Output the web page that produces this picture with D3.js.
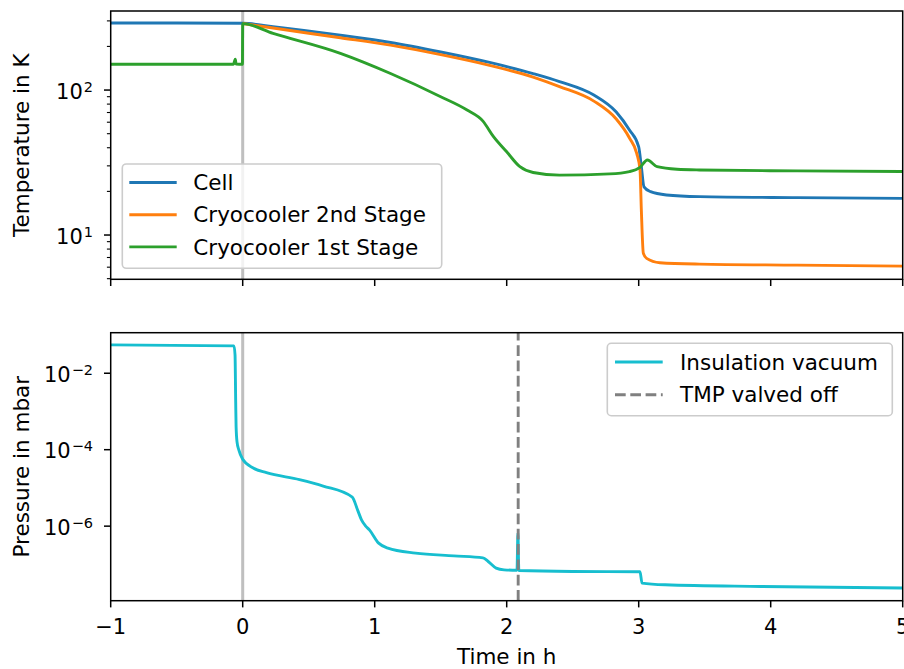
<!DOCTYPE html>
<html>
<head>
<meta charset="utf-8">
<script src="https://cdn.jsdelivr.net/npm/d3@7"></script>
<style>
html, body { margin: 0; padding: 0; background: #ffffff; }
svg { display: block; font-family: "DejaVu Sans", sans-serif; }
</style>
</head>
<body>
<svg id="chart" width="904" height="669"></svg>
<script>
// ---------------- data ----------------
const cellTime = [-1, -0.5, 0, 0.23, 0.74, 1.12, 1.5, 1.87, 2.2, 2.4, 2.66, 2.83, 2.93, 3.0, 3.02, 3.04, 3.09, 3.21, 3.46, 4.2, 5];
const cellTemp = [290, 290, 288.6, 274, 239, 213, 183, 155, 130, 114.5, 92.4, 70.5, 53, 40.6, 29.6, 21.5, 19.9, 18.9, 18.4, 18.1, 17.9];

const stage2Time = [0, 0.23, 0.74, 1.12, 1.5, 1.87, 2.2, 2.4, 2.66, 2.83, 2.93, 2.985, 3.01, 3.02, 3.035, 3.06, 3.16, 3.46, 4.2, 5];
const stage2Temp = [288, 267.7, 229.6, 204, 175.4, 148, 123, 105.7, 83.9, 63.1, 46.7, 36.6, 28.1, 14.9, 7.5, 6.9, 6.44, 6.3, 6.2, 6.1];

const stage1Time = [-1, -0.07, -0.062, -0.056, -0.05, -0.002, 0, 0.23, 0.74, 1.12, 1.5, 1.7, 1.82, 1.9, 2.0, 2.1, 2.2, 2.4, 2.78, 2.93, 3.01, 3.066, 3.14, 3.29, 3.46, 4.2, 5];
const stage1Temp = [150.5, 150.5, 158, 163, 151, 150.5, 287, 246, 179, 130, 90, 72.8, 61.1, 47.7, 37.5, 29.6, 27.0, 25.9, 26.4, 27.4, 29.3, 32.9, 29.6, 28.4, 28.1, 27.7, 27.4];

const vacTime = [-1, -0.066, -0.058, -0.053, -0.05, -0.043, -0.03, 0, 0.08, 0.18, 0.43, 0.61, 0.83, 0.87, 0.9, 0.93, 0.96, 1.03, 1.1, 1.31, 1.6, 1.82, 1.86, 1.92, 1.98, 2.078, 2.085, 2.092, 2.5, 3.01, 3.025, 3.2, 3.93, 5];
const vacPressure = [0.055, 0.052, 0.03, 1.7e-3, 4e-4, 1.6e-4, 1e-4, 5.6e-5, 3.3e-5, 2.5e-5, 1.65e-5, 1.12e-5, 5.75e-6, 2.67e-6, 1.46e-6, 1.02e-6, 8.0e-7, 3.6e-7, 2.66e-7, 1.97e-7, 1.67e-7, 1.48e-7, 1.19e-7, 8.0e-8, 7.2e-8, 7.0e-8, 6.6e-7, 6.9e-8, 6.5e-8, 6.4e-8, 3.24e-8, 2.92e-8, 2.64e-8, 2.4e-8];

const startTime = 0;
const tmpValvedOff = 2.087;

const xTicks = [-1, 0, 1, 2, 3, 4, 5];
const tempMajorTicks = [10, 100];
const tempMinorTicks = [5, 6, 7, 8, 9, 20, 30, 40, 50, 60, 70, 80, 90, 200, 300];
const presMajorTicks = [1e-2, 1e-4, 1e-6];
const presExponents = ["−2", "−4", "−6"];
const tempExponents = ["1", "2"];

const topSeries = [
  { name: "Cell", t: cellTime, v: cellTemp, color: "#1f77b4" },
  { name: "Cryocooler 2nd Stage", t: stage2Time, v: stage2Temp, color: "#ff7f0e" },
  { name: "Cryocooler 1st Stage", t: stage1Time, v: stage1Temp, color: "#2ca02c" }
];

// ---------------- layout ----------------
const svg = d3.select("#chart");
const L = 110.7, R = 902.7;
const top1 = 11, bot1 = 279.3;
const top2 = 332.7, bot2 = 600.7;
const LW = 2.9;
const tickFont = 21, labelFont = 21.5;

const x = d3.scaleLinear().domain([-1, 5]).range([L, R]);
const yT = d3.scaleLog().domain([4.95, 351]).range([bot1, top1]);
const yP = d3.scaleLog().domain([Math.pow(10, -7.95), Math.pow(10, -0.94)]).range([bot2, top2]);

const defs = svg.append("defs");
defs.append("clipPath").attr("id", "clip1").append("rect")
  .attr("x", L).attr("y", top1).attr("width", R - L).attr("height", bot1 - top1);
defs.append("clipPath").attr("id", "clip2").append("rect")
  .attr("x", L).attr("y", top2).attr("width", R - L).attr("height", bot2 - top2);

// ---------- top panel ----------
const g1 = svg.append("g").attr("clip-path", "url(#clip1)");
g1.append("line").attr("x1", x(startTime)).attr("x2", x(startTime))
  .attr("y1", top1).attr("y2", bot1).attr("stroke", "#bfbfbf").attr("stroke-width", 3);

topSeries.forEach(s => {
  const pts = s.t.map((t, i) => [t, s.v[i]]);
  g1.append("path").datum(pts)
    .attr("fill", "none").attr("stroke", s.color).attr("stroke-width", LW)
    .attr("stroke-linejoin", "round")
    .attr("d", d3.line().x(d => x(d[0])).y(d => yT(d[1])).curve(d3.curveMonotoneX));
});

// ---------- bottom panel ----------
const g2 = svg.append("g").attr("clip-path", "url(#clip2)");
g2.append("line").attr("x1", x(startTime)).attr("x2", x(startTime))
  .attr("y1", top2).attr("y2", bot2).attr("stroke", "#bfbfbf").attr("stroke-width", 3);
const vacPts = vacTime.map((t, i) => [t, vacPressure[i]]);
g2.append("path").datum(vacPts)
  .attr("fill", "none").attr("stroke", "#17becf").attr("stroke-width", LW)
  .attr("stroke-linejoin", "round")
  .attr("d", d3.line().x(d => x(d[0])).y(d => yP(d[1])).curve(d3.curveMonotoneX));
g2.append("line").attr("x1", x(tmpValvedOff)).attr("x2", x(tmpValvedOff))
  .attr("y1", bot2).attr("y2", top2).attr("stroke", "#808080").attr("stroke-width", LW)
  .attr("stroke-dasharray", "10.7,4.6");

// ---------- frames & ticks ----------
function frame(t, b) {
  svg.append("rect").attr("x", L).attr("y", t).attr("width", R - L).attr("height", b - t)
    .attr("fill", "none").attr("stroke", "#000").attr("stroke-width", 1.5);
}
frame(top1, bot1);
frame(top2, bot2);

function xTickMarks(b, labels) {
  xTicks.forEach(v => {
    svg.append("line").attr("x1", x(v)).attr("x2", x(v)).attr("y1", b).attr("y2", b + 6.7)
      .attr("stroke", "#000").attr("stroke-width", 1.5);
    if (labels) {
      svg.append("text").attr("x", x(v)).attr("y", 634).attr("text-anchor", "middle")
        .attr("font-size", tickFont).attr("fill", "#000")
        .text(v < 0 ? "−" + Math.abs(v) : String(v));
    }
  });
}
xTickMarks(bot1, false);
xTickMarks(bot2, true);

function yTick(yy, len, w) {
  svg.append("line").attr("x1", L).attr("x2", L - len).attr("y1", yy).attr("y2", yy)
    .attr("stroke", "#000").attr("stroke-width", w);
}
function yLabel(yy, exp) {
  const t = svg.append("text").attr("x", 93).attr("y", yy + 8.5)
    .attr("text-anchor", "end").attr("font-size", tickFont).attr("fill", "#000");
  t.append("tspan").text("10");
  t.append("tspan").attr("dy", -7).attr("dx", 1).attr("font-size", 14.5).text(exp);
}
tempMinorTicks.forEach(v => yTick(yT(v), 3.8, 1.1));
tempMajorTicks.forEach((v, i) => { yTick(yT(v), 6.7, 1.5); yLabel(yT(v), tempExponents[i]); });
presMajorTicks.forEach((v, i) => { yTick(yP(v), 6.7, 1.5); yLabel(yP(v), presExponents[i]); });

// axis labels
svg.append("text").attr("transform", `translate(28.7,${(top1 + bot1) / 2}) rotate(-90)`)
  .attr("text-anchor", "middle").attr("font-size", labelFont).attr("fill", "#000")
  .text("Temperature in K");
svg.append("text").attr("transform", `translate(28.7,${(top2 + bot2) / 2}) rotate(-90)`)
  .attr("text-anchor", "middle").attr("font-size", labelFont).attr("fill", "#000")
  .text("Pressure in mbar");
svg.append("text").attr("x", (L + R) / 2).attr("y", 664).attr("text-anchor", "middle")
  .attr("font-size", labelFont).attr("fill", "#000").text("Time in h");

// ---------- legends ----------
function legend(x0, y0, x1, y1, items, hx0, hx1, tx) {
  svg.append("rect").attr("x", x0).attr("y", y0).attr("width", x1 - x0).attr("height", y1 - y0)
    .attr("rx", 4).attr("ry", 4)
    .attr("fill", "#ffffff").attr("fill-opacity", 0.8)
    .attr("stroke", "#cccccc").attr("stroke-width", 1.6);
  items.forEach(it => {
    const ln = svg.append("line").attr("x1", hx0).attr("x2", hx1).attr("y1", it.y).attr("y2", it.y)
      .attr("stroke", it.color).attr("stroke-width", LW);
    if (it.dash) ln.attr("stroke-dasharray", it.dash);
    svg.append("text").attr("x", tx).attr("y", it.y + 7.6).attr("font-size", labelFont)
      .attr("fill", "#000").text(it.name);
  });
}
legend(122.3, 164, 441.7, 268.3,
  topSeries.map((s, i) => ({ name: s.name, color: s.color, y: 182.5 + i * 32.2 })),
  129.3, 176.7, 193.3);
legend(607.3, 343.3, 892.3, 415.7, [
  { name: "Insulation vacuum", color: "#17becf", y: 362 },
  { name: "TMP valved off", color: "#808080", y: 394.8, dash: "10.7,4.6" }
], 615, 662.7, 680);
</script>
</body>
</html>
